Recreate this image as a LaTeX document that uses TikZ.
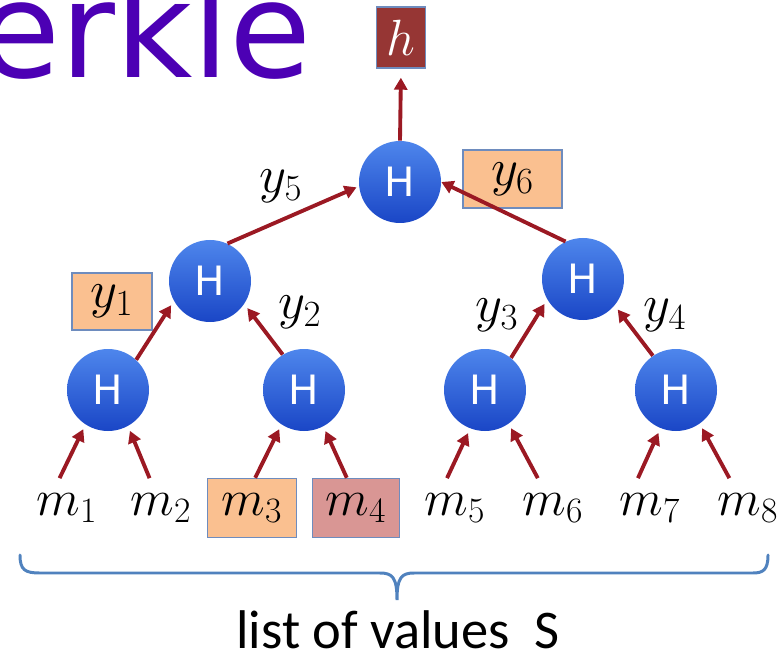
\RequirePackage{fix-cm}
\documentclass[tikz,border=0pt]{standalone}
\usepackage{amsmath}
\usepackage{fontspec}
\newfontfamily\dejavu{DejaVu Sans}
\newfontfamily\carlito{Carlito}
\usetikzlibrary{positioning,calc}
\usetikzlibrary{arrows.meta}
\definecolor{HashBlue}{RGB}{78,134,236}
\definecolor{HashDeep}{RGB}{26,70,198}
\definecolor{LinkRed}{RGB}{155,25,35}
\definecolor{BoxOrange}{RGB}{250,192,144}
\definecolor{BoxRose}{RGB}{217,150,148}
\definecolor{RootRed}{RGB}{150,54,52}
\definecolor{EdgeBlue}{RGB}{110,140,190}
\definecolor{BraceBlue}{RGB}{80,130,190}
\definecolor{TitlePurple}{RGB}{76,0,180}
\tikzset{
  hsh/.style={circle,inner sep=0pt,minimum size=1.64cm,top color=HashBlue,bottom color=HashDeep,
    text=white,font=\dejavu\fontsize{23}{27}\selectfont},
  link/.style={draw=LinkRed,line width=2.2pt,-{Triangle[length=0.24cm,width=0.26cm]},shorten >=0.1cm},
  val/.style={rectangle,inner sep=0pt,minimum width=1.78cm,minimum height=1.18cm,font=\fontsize{29}{34}\selectfont},
  hl/.style={draw=EdgeBlue,line width=0.8pt},
}
\tikzset{lab/.style={inner sep=0pt,font=\fontsize{30}{35}\selectfont}, ybox/.style={lab,hl,fill=BoxOrange,minimum height=1.16cm},
  brc/.style={draw=BraceBlue,line width=1.7pt,line cap=round}}

\begin{document}
\begin{tikzpicture}[scale=1]
\useasboundingbox (0,0) rectangle (15.680,-13.200);
\node[anchor=base west,inner sep=0pt,text=TitlePurple,font=\dejavu\fontsize{76}{90}\selectfont] (ttl) at (-0.440,-1.560) {erkle};
\node[hl,fill=RootRed,text=white,minimum width=0.98cm,minimum height=1.22cm,inner sep=0pt,font=\fontsize{29}{34}\selectfont] (top) at (8.020,-0.750) {$h$};
\node[ybox,minimum width=1.98cm] (y6) at (10.250,-3.580) {$y_6$};
\node[ybox,minimum width=1.60cm,minimum height=1.14cm] (y1) at (2.240,-6.030) {$y_1$};
\node[lab] (y2) at (6.000,-6.240) {$y_2$};
\node[lab] (y3) at (9.940,-6.300) {$y_3$};
\node[lab] (y4) at (13.300,-6.300) {$y_4$};
\node[lab] (y5) at (5.620,-3.720) {$y_5$};
\node[hsh] (n7) at (8.000,-3.640) {H};
\node[hsh] (n5) at (4.200,-5.620) {H};
\node[hsh] (n6) at (11.660,-5.580) {H};
\node[hsh] (n1) at (2.160,-7.800) {H};
\node[hsh] (n2) at (6.080,-7.800) {H};
\node[hsh] (n3) at (9.700,-7.800) {H};
\node[hsh] (n4) at (13.520,-7.800) {H};
\node[val] (m1) at (1.340,-10.160) {$m_1$};
\node[val] (m2) at (3.220,-10.160) {$m_2$};
\node[val,hl,fill=BoxOrange] (m3) at (5.040,-10.160) {$m_3$};
\node[val,hl,fill=BoxRose,minimum width=1.74cm] (m4) at (7.120,-10.160) {$m_4$};
\node[val] (m5) at (9.100,-10.160) {$m_5$};
\node[val] (m6) at (11.060,-10.160) {$m_6$};
\node[val] (m7) at (13.000,-10.160) {$m_7$};
\node[val] (m8) at (14.960,-10.160) {$m_8$};
\draw[link,shorten >=0.18cm] (n7.north) -- (top.south);
\draw[link,shorten >=0.05cm] (n5.65) -- (n7.186);
\draw[link,shorten >=0cm] (n6.115) -- (n7.0);
\draw[link] (n1.47) -- (n5.209);
\draw[link] (n2.121) -- (n5.326);
\draw[link] (n3.51) -- (n6.210);
\draw[link] (n4.124) -- (n6.320);
\draw[link] (m1.104) -- (n1.237);
\draw[link] (m2.111) -- (n1.299);
\draw[link] (m3.84) -- (n2.237);
\draw[link] (m4.107) -- (n2.298);
\draw[link] (m5.105) -- (n3.249);
\draw[link] (m6.117) -- (n3.305);
\draw[link] (m7.112) -- (n4.248);
\draw[link] (m8.122) -- (n4.305);
\draw[brc] (0.400,-11.100) .. controls (0.400,-11.400) and (0.500,-11.460) .. (0.800,-11.460) -- (7.600,-11.460)
  .. controls (7.850,-11.460) and (7.940,-11.550) .. (7.940,-12.000)
  .. controls (7.940,-11.550) and (8.030,-11.460) .. (8.280,-11.460) -- (15.060,-11.460)
  .. controls (15.260,-11.460) and (15.360,-11.400) .. (15.360,-11.100);
\node[inner sep=0pt,font=\carlito\fontsize{31}{36}\selectfont] (lst) at (7.960,-12.600) {list of values~~S};
\end{tikzpicture}
\end{document}
